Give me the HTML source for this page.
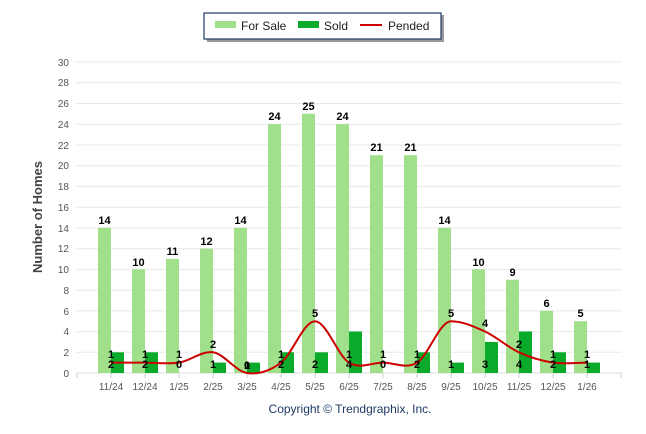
<!DOCTYPE html>
<html><head><style>
body{margin:0;background:#fff;}
svg{display:block;font-family:"Liberation Sans",sans-serif;}
</style></head><body>
<svg width="646" height="434" viewBox="0 0 646 434" xmlns="http://www.w3.org/2000/svg">
<rect x="207" y="15" width="237" height="27" fill="#999"/>
<rect x="204" y="13" width="237" height="26" fill="#fff" stroke="#1f3a64" stroke-width="1.2"/>
<rect x="215" y="21" width="21" height="7" fill="#a0e08a"/>
<text x="241" y="30" font-size="12" fill="#222">For Sale</text>
<rect x="298" y="21" width="21" height="7" fill="#0aaa2a"/>
<text x="324" y="30" font-size="12" fill="#222">Sold</text>
<rect x="360" y="24" width="22" height="2" fill="#cc0000"/>
<text x="388" y="30" font-size="12" fill="#222">Pended</text>
<g stroke="#e8e8e8" stroke-width="1">
<line x1="76" x2="622" y1="62" y2="62"/><line x1="76" x2="622" y1="82.7" y2="82.7"/><line x1="76" x2="622" y1="103.5" y2="103.5"/><line x1="76" x2="622" y1="124.2" y2="124.2"/><line x1="76" x2="622" y1="145" y2="145"/><line x1="76" x2="622" y1="165.7" y2="165.7"/><line x1="76" x2="622" y1="186.4" y2="186.4"/><line x1="76" x2="622" y1="207.2" y2="207.2"/><line x1="76" x2="622" y1="227.9" y2="227.9"/><line x1="76" x2="622" y1="248.7" y2="248.7"/><line x1="76" x2="622" y1="269.4" y2="269.4"/><line x1="76" x2="622" y1="290.1" y2="290.1"/><line x1="76" x2="622" y1="310.9" y2="310.9"/><line x1="76" x2="622" y1="331.6" y2="331.6"/><line x1="76" x2="622" y1="352.3" y2="352.3"/>
</g>
<line x1="76" x2="622" y1="373" y2="373" stroke="#ddd"/>
<g stroke="#ccc"><line x1="77" x2="77" y1="373" y2="378"/><line x1="111" x2="111" y1="373" y2="378"/><line x1="145" x2="145" y1="373" y2="378"/><line x1="179" x2="179" y1="373" y2="378"/><line x1="213" x2="213" y1="373" y2="378"/><line x1="247" x2="247" y1="373" y2="378"/><line x1="281" x2="281" y1="373" y2="378"/><line x1="315" x2="315" y1="373" y2="378"/><line x1="349" x2="349" y1="373" y2="378"/><line x1="383" x2="383" y1="373" y2="378"/><line x1="417" x2="417" y1="373" y2="378"/><line x1="451" x2="451" y1="373" y2="378"/><line x1="485" x2="485" y1="373" y2="378"/><line x1="519" x2="519" y1="373" y2="378"/><line x1="553" x2="553" y1="373" y2="378"/><line x1="587" x2="587" y1="373" y2="378"/><line x1="621" x2="621" y1="373" y2="378"/></g>
<g font-size="10" fill="#555" text-anchor="end">
<text x="69" y="377">0</text><text x="69" y="356">2</text><text x="69" y="335">4</text><text x="69" y="315">6</text><text x="69" y="294">8</text><text x="69" y="273">10</text><text x="69" y="252">12</text><text x="69" y="232">14</text><text x="69" y="211">16</text><text x="69" y="190">18</text><text x="69" y="169">20</text><text x="69" y="149">22</text><text x="69" y="128">24</text><text x="69" y="107">26</text><text x="69" y="86">28</text><text x="69" y="66">30</text>
</g>
<text transform="translate(42,217) rotate(-90)" font-size="13" font-weight="bold" fill="#444" text-anchor="middle">Number of Homes</text>
<g fill="#a0e08a">
<rect x="98" y="227.8" width="13" height="145.2"/><rect x="132" y="269.3" width="13" height="103.7"/><rect x="166" y="258.9" width="13" height="114.1"/><rect x="200" y="248.6" width="13" height="124.4"/><rect x="234" y="227.8" width="13" height="145.2"/><rect x="268" y="124.1" width="13" height="248.9"/><rect x="302" y="113.7" width="13" height="259.3"/><rect x="336" y="124.1" width="13" height="248.9"/><rect x="370" y="155.2" width="13" height="217.8"/><rect x="404" y="155.2" width="13" height="217.8"/><rect x="438" y="227.8" width="13" height="145.2"/><rect x="472" y="269.3" width="13" height="103.7"/><rect x="506" y="279.7" width="13" height="93.3"/><rect x="540" y="310.8" width="13" height="62.2"/><rect x="574" y="321.2" width="13" height="51.8"/>
</g>
<g fill="#0aaa2a">
<rect x="111" y="352.3" width="13" height="20.7"/><rect x="145" y="352.3" width="13" height="20.7"/><rect x="213" y="362.6" width="13" height="10.4"/><rect x="247" y="362.6" width="13" height="10.4"/><rect x="281" y="352.3" width="13" height="20.7"/><rect x="315" y="352.3" width="13" height="20.7"/><rect x="349" y="331.5" width="13" height="41.5"/><rect x="417" y="352.3" width="13" height="20.7"/><rect x="451" y="362.6" width="13" height="10.4"/><rect x="485" y="341.9" width="13" height="31.1"/><rect x="519" y="331.5" width="13" height="41.5"/><rect x="553" y="352.3" width="13" height="20.7"/><rect x="587" y="362.6" width="13" height="10.4"/>
</g>
<g font-size="11" font-weight="bold" fill="#000" text-anchor="middle">
<text x="104.5" y="224">14</text><text x="138.5" y="266">10</text><text x="172.5" y="255">11</text><text x="206.5" y="245">12</text><text x="240.5" y="224">14</text><text x="274.5" y="120">24</text><text x="308.5" y="110">25</text><text x="342.5" y="120">24</text><text x="376.5" y="151">21</text><text x="410.5" y="151">21</text><text x="444.5" y="224">14</text><text x="478.5" y="266">10</text><text x="512.5" y="276">9</text><text x="546.5" y="307">6</text><text x="580.5" y="317">5</text>
</g>
<path d="M111,362.6 C122.3,362.6 133.7,362.6 145,362.6 C156.3,362.6 167.7,364.3 179,362.6 C190.3,360.9 201.7,350.6 213,352.3 C224.3,354 235.7,371.3 247,373 C258.3,374.7 269.7,371.2 281,362.6 C292.3,354 303.7,321.2 315,321.2 C326.3,321.2 337.7,355.7 349,362.6 C360.3,369.5 371.7,362.6 383,362.6 C394.3,362.6 405.7,369.5 417,362.6 C428.3,355.7 439.7,321.2 451,321.2 C462.3,321.2 473.7,326.3 485,331.5 C496.3,336.7 507.7,347.1 519,352.3 C530.3,357.5 541.7,360.9 553,362.6 C564.3,364.3 575.7,362.6 587,362.6" fill="none" stroke="#cc0000" stroke-width="2"/>
<g font-size="11" font-weight="bold" fill="#000" text-anchor="middle">
<text x="111" y="358">1</text><text x="111" y="368">2</text>
<text x="145" y="358">1</text><text x="145" y="368">2</text>
<text x="179" y="358">1</text><text x="179" y="368">0</text>
<text x="213" y="348">2</text><text x="213" y="368">1</text>
<text x="247" y="369">0</text><text x="247" y="369">1</text>
<text x="281" y="358">1</text><text x="281" y="368">2</text>
<text x="315" y="317">5</text><text x="315" y="368">2</text>
<text x="349" y="358">1</text><text x="349" y="368">4</text>
<text x="383" y="358">1</text><text x="383" y="368">0</text>
<text x="417" y="358">1</text><text x="417" y="368">2</text>
<text x="451" y="317">5</text><text x="451" y="368">1</text>
<text x="485" y="327">4</text><text x="485" y="368">3</text>
<text x="519" y="348">2</text><text x="519" y="368">4</text>
<text x="553" y="358">1</text><text x="553" y="368">2</text>
<text x="587" y="358">1</text><text x="587" y="368">1</text>
</g>
<g font-size="10" fill="#555" text-anchor="middle">
<text x="111" y="390">11/24</text><text x="145" y="390">12/24</text><text x="179" y="390">1/25</text><text x="213" y="390">2/25</text><text x="247" y="390">3/25</text><text x="281" y="390">4/25</text><text x="315" y="390">5/25</text><text x="349" y="390">6/25</text><text x="383" y="390">7/25</text><text x="417" y="390">8/25</text><text x="451" y="390">9/25</text><text x="485" y="390">10/25</text><text x="519" y="390">11/25</text><text x="553" y="390">12/25</text><text x="587" y="390">1/26</text>
</g>
<text x="350" y="413" font-size="12" fill="#1f3a64" text-anchor="middle">Copyright © Trendgraphix, Inc.</text>
</svg>
</body></html>
